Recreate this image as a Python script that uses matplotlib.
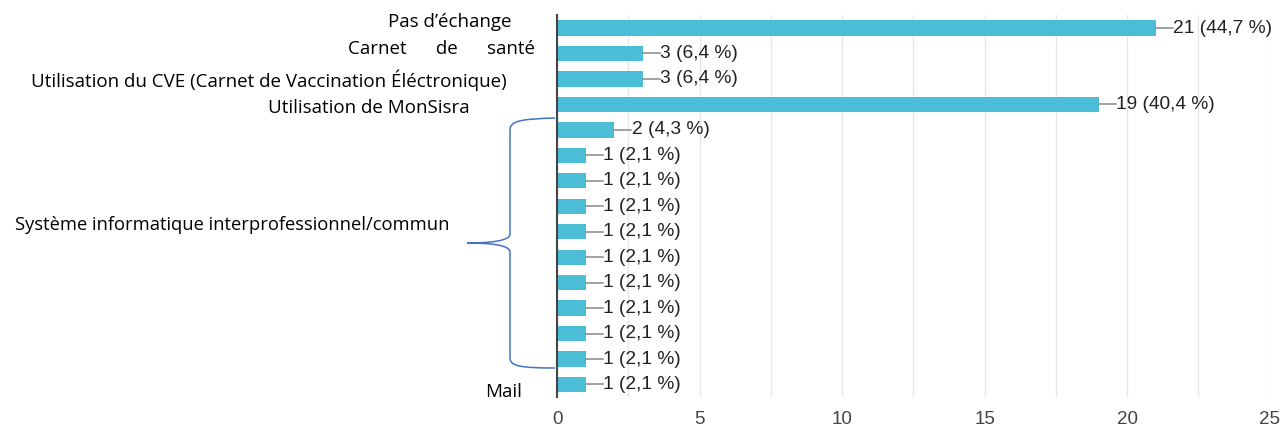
import numpy as np
import matplotlib.pyplot as plt
from matplotlib.path import Path
from matplotlib.patches import PathPatch

# responses per bar, top to bottom
counts = [21, 3, 3, 19, 2, 1, 1, 1, 1, 1, 1, 1, 1, 1, 1]
pcts = ['44,7', '6,4', '6,4', '40,4', '4,3', '2,1', '2,1', '2,1', '2,1',
        '2,1', '2,1', '2,1', '2,1', '2,1', '2,1']
xticks = [0, 5, 10, 15, 20, 25]

bar_color = '#4bbdd6'

fig = plt.figure(figsize=(12.85, 4.3), dpi=100)
ax = fig.add_axes([0.4335, 0.0763, 0.5545, 0.8881])

y = np.arange(len(counts))
ax.barh(y, counts, height=0.6, color=bar_color, zorder=3)
for yi, c, p in zip(y, counts, pcts):
    ax.plot([c, c + 0.6], [yi, yi], color='#888888', lw=1.1, zorder=3)
    ax.text(c + 0.62, yi, f'{c} ({p} %)', va='center', ha='left',
            fontsize=13.8, color='#222222', family='Liberation Sans')

ax.set_ylim(len(counts) - 0.5, -0.5)
ax.set_xlim(0, 25)
ax.set_yticks([])
ax.set_xticks(xticks)
ax.set_xticks(np.arange(0, 25.1, 2.5), minor=True)
ax.tick_params(axis='x', length=0, pad=10, labelsize=13.5, labelcolor='#444444')
for lab in ax.get_xticklabels():
    lab.set_family('Liberation Sans')
ax.tick_params(axis='x', which='minor', length=0)
ax.grid(axis='x', which='both', color='#e6e6e6', lw=1, zorder=0)
for s in ['top', 'right', 'bottom']:
    ax.spines[s].set_visible(False)
ax.spines['left'].set_color('#444444')
ax.spines['left'].set_linewidth(1.5)
ax.spines['left'].set_zorder(4)

# left side labels (pixel positions of the reference, converted to figure fractions)
W, H = 1285, 430
lab_kw = dict(family='Open Sans', color='black', va='center')
fig.text(512 / W, 1 - 22 / H, 'Pas d\u2019échange', ha='right', fontsize=13.5, **lab_kw)
fig.text(535 / W, 1 - 49 / H, 'Carnet      de      santé', ha='right', fontsize=13.5, **lab_kw)
fig.text(507 / W, 1 - 80 / H, 'Utilisation du CVE (Carnet de Vaccination Éléctronique)',
         ha='right', fontsize=13.5, **lab_kw)
fig.text(470 / W, 1 - 108 / H, 'Utilisation de MonSisra', ha='right', fontsize=13.5, **lab_kw)
fig.text(15 / W, 1 - 225 / H, 'Système informatique interprofessionnel/commun',
         ha='left', fontsize=13.2, **lab_kw)
fig.text(522 / W, 1 - 392 / H, 'Mail', ha='right', fontsize=13.5, **lab_kw)

# curly brace grouping the informatics bars
def fp(px, py):
    return (px / W, 1 - py / H)

verts = [fp(555, 118), fp(520, 119), fp(510, 121), fp(510, 130),
         fp(510, 234),
         fp(510, 241), fp(490, 243), fp(467, 243),
         fp(490, 243), fp(510, 245), fp(510, 252),
         fp(510, 358),
         fp(510, 366), fp(520, 368), fp(555, 368)]
codes = [Path.MOVETO, Path.CURVE4, Path.CURVE4, Path.CURVE4,
         Path.LINETO,
         Path.CURVE4, Path.CURVE4, Path.CURVE4,
         Path.CURVE4, Path.CURVE4, Path.CURVE4,
         Path.LINETO,
         Path.CURVE4, Path.CURVE4, Path.CURVE4]
brace = PathPatch(Path(verts, codes), transform=fig.transFigure,
                  fill=False, edgecolor='#4472c4', lw=1.1)
fig.patches.append(brace)

fig.savefig('out.png', dpi=100)
